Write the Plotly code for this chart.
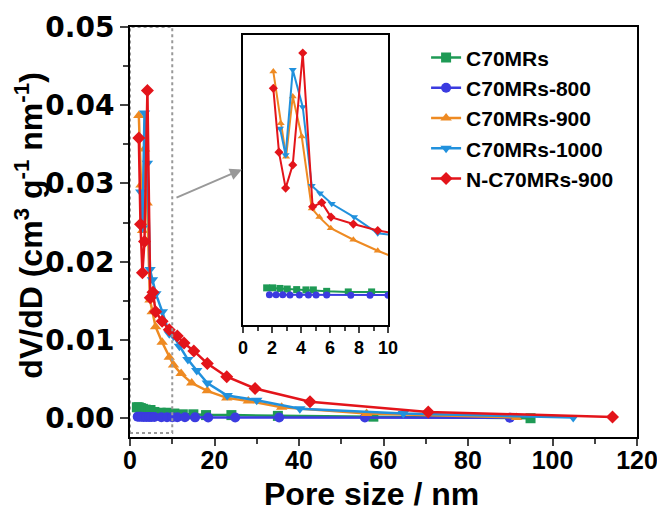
import plotly.graph_objects as go

# pore size distribution
c70_x = [1.63, 2.05, 2.55, 3.05, 3.7, 4.34, 4.85, 5.77, 7.26, 8.87, 10.5, 12.5, 15.0, 18.0, 24.0, 35.0, 57.6, 94.8]
c70_y = [0.0014, 0.0014, 0.0013, 0.0012, 0.0011, 0.00105, 0.00105, 0.0008, 0.0007, 0.0007, 0.0006, 0.0005, 0.0005, 0.0004, 0.0004, 0.0003, 0.0002, 0.0000]

c800_x = [1.82, 2.28, 2.74, 3.24, 3.89, 4.51, 5.04, 5.77, 7.43, 8.76, 10.0, 11.2, 13.0, 15.4, 18.5, 24.9, 35.3, 55.6, 89.9]
c800_y = [0.0002, 0.0002, 0.0002, 0.00017, 0.00017, 0.00017, 0.00017, 0.00015, 0.00013, 0.00013, 0.00012, 0.00012, 0.00012, 0.00011, 0.0001, 0.0001, 0.0001, 0.0001, 0.00005]

c900_x = [2.09, 2.6, 2.97, 3.43, 4.05, 4.74, 5.26, 6.05, 7.61, 9.29, 10.3, 12.1, 14.6, 18.3, 22.9, 28.0, 35.9, 56.0, 91.5]
c900_y = [0.0387, 0.0298, 0.0240, 0.0344, 0.0275, 0.0151, 0.0136, 0.0117, 0.0097, 0.0078, 0.0068, 0.0057, 0.0045, 0.0035, 0.0026, 0.0022, 0.0014, 0.0006, 0.0001]

c1000_x = [2.55, 2.94, 3.43, 4.12, 4.74, 5.31, 6.12, 7.66, 9.29, 10.3, 11.7, 13.7, 15.8, 18.3, 23.0, 30.0, 40.2, 64.7, 104.9]
c1000_y = [0.0289, 0.0243, 0.0390, 0.0326, 0.0190, 0.0177, 0.0159, 0.0136, 0.0108, 0.0105, 0.0092, 0.0075, 0.0061, 0.0045, 0.0029, 0.0023, 0.0012, 0.0006, 0.0001]

nc900_x = [2.09, 2.48, 2.94, 3.43, 4.12, 4.8, 5.43, 6.07, 7.61, 9.29, 11.2, 12.8, 15.1, 18.3, 22.9, 29.6, 42.6, 70.6, 114.2]
nc900_y = [0.0358, 0.0248, 0.0186, 0.0226, 0.0419, 0.0154, 0.0161, 0.0136, 0.0124, 0.0113, 0.0105, 0.0096, 0.0086, 0.0070, 0.0053, 0.0038, 0.0021, 0.0008, 0.00017]

series = [
    ("C70MRs", c70_x, c70_y, "#1E9A55", "square"),
    ("C70MRs-800", c800_x, c800_y, "#3B3BE0", "circle"),
    ("C70MRs-900", c900_x, c900_y, "#EE8A22", "triangle-up"),
    ("C70MRs-1000", c1000_x, c1000_y, "#2191DD", "triangle-down"),
    ("N-C70MRs-900", nc900_x, nc900_y, "#E3141A", "diamond"),
]

font = "Arial, Liberation Sans, sans-serif"
fig = go.Figure()

for i, (name, xs, ys, col, sym) in enumerate(series):
    fig.add_trace(go.Scatter(x=xs, y=ys, name=name, mode="lines+markers",
                             line=dict(color=col, width=2.5),
                             marker=dict(color=col, symbol=sym, size=10),
                             legendgroup=str(i)))
for name, xs, ys, col, sym in series:
    fig.add_trace(go.Scatter(x=xs, y=ys, mode="lines+markers", showlegend=False,
                             line=dict(color=col, width=2),
                             marker=dict(color=col, symbol=sym, size=7),
                             xaxis="x2", yaxis="y2"))

# dotted zoom box and arrow to inset
fig.add_shape(type="rect", x0=0, x1=10, y0=-0.0019, y1=0.05, xref="x", yref="y",
              line=dict(color="#999999", width=2, dash="dot"))
fig.add_annotation(x=26.5, y=0.0318, ax=10.65, ay=0.0281, xref="x", yref="y",
                   axref="x", ayref="y", text="", showarrow=True,
                   arrowhead=2, arrowsize=1.2, arrowwidth=2, arrowcolor="#999999")

# axis titles as annotations so they sit where the reference has them
fig.add_annotation(text="Pore size / nm", xref="paper", yref="paper", x=0.477, y=-0.138,
                   xanchor="center", yanchor="middle", showarrow=False, font=dict(size=32))
fig.add_annotation(text="dV/dD (cm<sup>3</sup> g<sup>-1</sup> nm<sup>-1</sup>)",
                   xref="paper", yref="paper", x=-0.2, y=0.517, textangle=-90,
                   xanchor="center", yanchor="middle", showarrow=False, font=dict(size=32))

fig.update_layout(
    width=665, height=509,
    margin=dict(l=122, r=36, t=19, b=80),
    paper_bgcolor="white", plot_bgcolor="white",
    font=dict(family=font, size=20, color="black", weight="bold"),
    xaxis=dict(range=[0, 120], dtick=20, ticks="outside", ticklen=7, tickwidth=2,
               minor=dict(dtick=10, ticks="outside", ticklen=5, tickwidth=2),
               showline=True, linewidth=2, linecolor="black", mirror=True,
               showgrid=False, zeroline=False, tickfont=dict(size=25),
               ticklabelstandoff=-7, automargin=False),
    yaxis=dict(range=[-0.0024, 0.05], dtick=0.01, tickformat=".2f", ticks="outside",
               ticklen=8, tickwidth=2,
               minor=dict(dtick=0.005, ticks="outside", ticklen=5, tickwidth=2),
               showline=True, linewidth=2, linecolor="black", mirror=True,
               showgrid=False, zeroline=False, automargin=False,
               tickfont=dict(family="DejaVu Sans", size=28)),
    xaxis2=dict(domain=[0.2229, 0.5089], anchor="y2", range=[0, 10], dtick=2,
                ticks="outside", ticklen=6, tickwidth=1.5,
                minor=dict(dtick=1, ticks="outside", ticklen=4, tickwidth=1.5),
                showline=True, linewidth=1.5, linecolor="black", mirror=True,
                showgrid=False, zeroline=False, tickfont=dict(size=18)),
    yaxis2=dict(domain=[0.2732, 0.9805], anchor="x2", range=[-0.005, 0.045],
                showticklabels=False, ticks="",
                showline=True, linewidth=1.5, linecolor="black", mirror=True,
                showgrid=False, zeroline=False),
    legend=dict(x=0.584, y=0.975, xanchor="left", yanchor="top",
                font=dict(size=21), tracegroupgap=0, bgcolor="rgba(0,0,0,0)"),
)

fig.write_html("out.html")
